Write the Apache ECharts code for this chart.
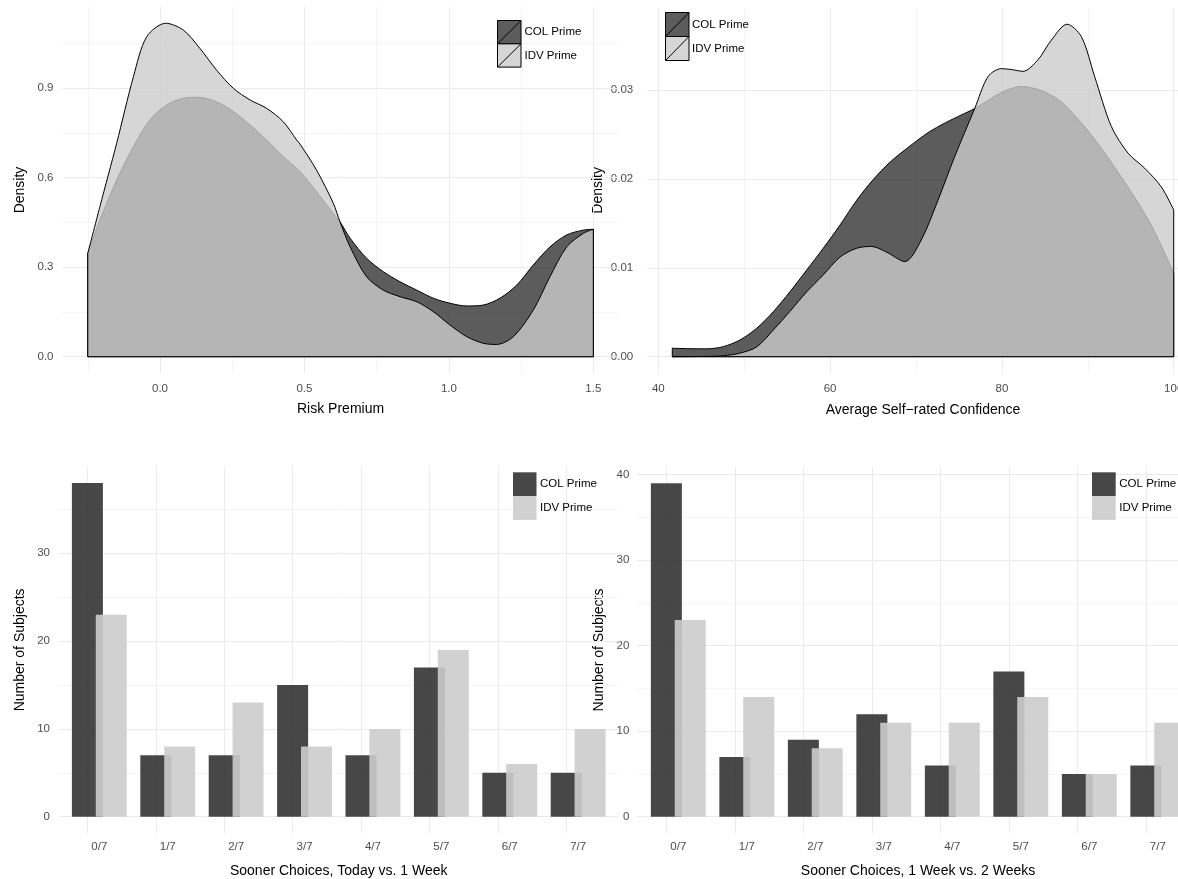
<!DOCTYPE html>
<html><head><meta charset="utf-8">
<script src="https://cdn.jsdelivr.net/npm/echarts@6/dist/echarts.min.js"></script>
<style>html,body{margin:0;padding:0;background:#fff;overflow:hidden}#c{width:1230px;height:879px}</style>
</head><body><div id="c"></div>
<script>
// ---------- DATA ----------
const riskColPrime = [[-0.25,0.346],[-0.208,0.458],[-0.15,0.592],[-0.092,0.704],[-0.035,0.793],[0.023,0.843],[0.081,0.866],[0.133,0.869],[0.196,0.854],[0.254,0.821],[0.312,0.776],[0.369,0.726],[0.427,0.67],[0.485,0.62],[0.542,0.553],[0.6,0.48],[0.623,0.452],[0.658,0.397],[0.715,0.33],[0.773,0.285],[0.831,0.251],[0.889,0.223],[0.946,0.196],[1.004,0.179],[1.062,0.17],[1.119,0.173],[1.177,0.196],[1.235,0.24],[1.292,0.307],[1.35,0.368],[1.408,0.408],[1.465,0.424],[1.5,0.427]];
const riskIdvPrime = [[-0.25,0.346],[-0.208,0.503],[-0.15,0.715],[-0.092,0.938],[-0.046,1.072],[0.02,1.117],[0.081,1.094],[0.138,1.033],[0.196,0.96],[0.254,0.899],[0.312,0.86],[0.369,0.832],[0.427,0.787],[0.473,0.726],[0.485,0.712],[0.542,0.625],[0.6,0.514],[0.623,0.452],[0.658,0.368],[0.715,0.268],[0.773,0.223],[0.831,0.201],[0.889,0.184],[0.946,0.151],[1.004,0.106],[1.062,0.067],[1.119,0.045],[1.165,0.041],[1.223,0.067],[1.292,0.156],[1.35,0.268],[1.408,0.368],[1.465,0.413],[1.5,0.427]];
const confColPrime = [[41.63,0.00095],[43.69,0.0009],[45.63,0.00088],[47.57,0.00113],[49.51,0.00188],[51.46,0.0032],[53.39,0.00506],[55.33,0.00731],[57.28,0.00975],[59.21,0.0122],[61.15,0.0148],[63.1,0.0176],[65.0,0.0199],[67.0,0.0219],[69.3,0.0237],[71.4,0.0252],[73.4,0.0263],[75.3,0.0272],[76.8,0.0279],[78.5,0.0289],[80.1,0.0298],[82.3,0.0304],[84.4,0.03],[86.6,0.0289],[88.8,0.0268],[91.0,0.0242],[93.2,0.0212],[95.4,0.018],[97.5,0.0146],[100,0.0094]];
const confIdvPrime = [[41.63,0],[45.5,0.00003],[47.57,0.0001],[49.51,0.0004],[51.46,0.0011],[53.39,0.003],[55.33,0.0051],[57.28,0.0073],[59.21,0.0092],[61.15,0.0112],[63.1,0.0122],[64.8,0.0124],[66.5,0.0118],[68.7,0.0107],[70.6,0.0131],[72.56,0.0176],[74.5,0.0225],[76.83,0.0279],[78.38,0.0315],[79.93,0.0324],[81.1,0.0323],[82.46,0.0321],[84.2,0.0334],[85.75,0.0356],[87.58,0.0374],[89.25,0.036],[90.8,0.0315],[92.74,0.0259],[94.68,0.0229],[96.62,0.0212],[98.56,0.0191],[100,0.0165]];

const soonerCategories = ['0/7','1/7','2/7','3/7','4/7','5/7','6/7','7/7'];
const todayWeekColPrime = [38,7,7,15,7,17,5,5];
const todayWeekIdvPrime = [23,8,13,8,10,19,6,10];
const weekTwoColPrime = [39,7,9,12,6,17,5,6];
const weekTwoIdvPrime = [23,14,8,11,11,14,5,11];

const riskTicks = [0,0.5,1,1.5];
const riskMinorTicks = [-0.25,0.25,0.75,1.25];
const riskDensityTicks = [0,0.3,0.6,0.9];
const riskDensityMinorTicks = [0.15,0.45,0.75,1.05];
const confTicks = [40,60,80,100];
const confMinorTicks = [50,70,90];
const confDensityTicks = [0,0.01,0.02,0.03];
const confDensityMinorTicks = [0.005,0.015,0.025,0.035];
const countTicksA = [0,10,20,30];
const countTicksB = [0,10,20,30,40];
const countMinorTicks = [5,15,25,35];
const seriesNames = ['COL Prime','IDV Prime'];

// ---------- STYLE ----------
const FONT = "'Liberation Sans', Arial, Helvetica, sans-serif";
const colDens = 'rgba(51,51,51,0.8)';
const idvDens = 'rgba(204,204,204,0.8)';
const colBar = 'rgba(51,51,51,0.9)';
const idvBar = 'rgba(204,204,204,0.9)';
const majorLine = {color:'#ebebeb', width:1, type:'solid'};
const minorLine = {color:'#f4f4f4', width:1, type:'solid'};

function gridMarks(majX, minX, majY, minY){
  return {
    silent:true, symbol:['none','none'], z:1, animation:false,
    label:{show:false}, emphasis:{disabled:true},
    lineStyle:{type:'solid'},
    data:[].concat(
      minX.map(v=>({xAxis:v, lineStyle:minorLine})),
      minY.map(v=>({yAxis:v, lineStyle:minorLine})),
      majX.map(v=>({xAxis:v, lineStyle:majorLine})),
      majY.map(v=>({yAxis:v, lineStyle:majorLine}))
    )
  };
}
function edges(d){
  const a=d[0], b=d[d.length-1];
  return [[b[0],b[1]],[b[0],0],[a[0],0],[a[0],a[1]]];
}
function xAx(idx, o){
  return Object.assign({
    type:'value', gridIndex:idx, nameLocation:'middle',
    nameTextStyle:{fontSize:14, color:'#000', fontFamily:FONT},
    axisLine:{show:false}, axisTick:{show:false}, splitLine:{show:false},
  }, o);
}
const tickText = {fontSize:11.5, color:'#4d4d4d', fontFamily:FONT};

const grids = [
  {left:62.5, top:6.6, width:556.1, height:366.8},
  {left:647.2, top:7.4, width:551.6, height:365.9},
  {left:58.3, top:466.4, width:560.9, height:367},
  {left:637.2, top:466.6, width:561.7, height:366.8}
];

const xAxes = [
  xAx(0,{min:-0.3375, max:1.5875, name:'Risk Premium', nameGap:29,
    axisLabel:Object.assign({customValues:riskTicks, margin:9.5, formatter:v=>v.toFixed(1)},tickText)}),
  xAx(1,{min:38.71, max:102.92, name:'Average Self\u2212rated Confidence', nameGap:29.5,
    axisLabel:Object.assign({customValues:confTicks, margin:9.5, formatter:v=>String(Math.round(v))},tickText)}),
  xAx(2,{min:-0.6, max:7.6, name:'Sooner Choices, Today vs. 1 Week', nameGap:30.5,
    axisLabel:Object.assign({customValues:soonerCategories.map((c,i)=>i), margin:7.5, formatter:v=>soonerCategories[Math.round(v)]},tickText)}),
  xAx(3,{min:-0.6, max:7.6, name:'Sooner Choices, 1 Week vs. 2 Weeks', nameGap:30.5,
    axisLabel:Object.assign({customValues:soonerCategories.map((c,i)=>i), margin:7.5, formatter:v=>soonerCategories[Math.round(v)]},tickText)})
];
const yAxes = [
  xAx(0,{min:-0.0559, max:1.1728, name:'Density', nameGap:35,
    axisLabel:Object.assign({customValues:riskDensityTicks, margin:9, formatter:v=>v.toFixed(1)},tickText)}),
  xAx(1,{min:-0.00187, max:0.03929, name:'Density', nameGap:42,
    axisLabel:Object.assign({customValues:confDensityTicks, margin:14, formatter:v=>v.toFixed(2)},tickText)}),
  xAx(2,{min:-1.9, max:39.9, name:'Number of Subjects', nameGap:31.5,
    axisLabel:Object.assign({customValues:countTicksA, margin:8.3, formatter:v=>String(Math.round(v))},tickText)}),
  xAx(3,{min:-1.95, max:40.95, name:'Number of Subjects', nameGap:31.5,
    axisLabel:Object.assign({customValues:countTicksB, margin:7.8, formatter:v=>String(Math.round(v))},tickText)})
];

function densSeries(g, data, fill, name, z, marks){
  const s = [{
    type:'line', name:name, xAxisIndex:g, yAxisIndex:g, data:data, smooth:0.3,
    symbol:'none', z:z, silent:true,
    lineStyle:{color:'#000', width:1}, areaStyle:{color:fill, opacity:1}
  },{
    type:'line', name:name, xAxisIndex:g, yAxisIndex:g, data:edges(data), smooth:false,
    symbol:'none', z:z, silent:true, lineStyle:{color:'#000', width:1}
  }];
  if (marks) s[0].markLine = marks;
  return s;
}
function barSeries(g, vals, color, name, z, marks){
  const s = {
    type:'bar', name:name, xAxisIndex:g, yAxisIndex:g,
    data:vals.map((v,i)=>[i,v]), barWidth:31, barGap:'-23%', z:z, silent:true,
    itemStyle:{color:color}
  };
  if (marks) s.markLine = marks;
  return s;
}

const series = [].concat(
  densSeries(0, riskColPrime, colDens, seriesNames[0], 3, gridMarks(riskTicks, riskMinorTicks, riskDensityTicks, riskDensityMinorTicks)),
  densSeries(0, riskIdvPrime, idvDens, seriesNames[1], 4),
  densSeries(1, confColPrime, colDens, seriesNames[0], 3, gridMarks(confTicks, confMinorTicks, confDensityTicks, confDensityMinorTicks)),
  densSeries(1, confIdvPrime, idvDens, seriesNames[1], 4),
  [barSeries(2, todayWeekColPrime, colBar, seriesNames[0], 3, gridMarks(soonerCategories.map((c,i)=>i), [], countTicksA, countMinorTicks)),
   barSeries(2, todayWeekIdvPrime, idvBar, seriesNames[1], 4),
   barSeries(3, weekTwoColPrime, colBar, seriesNames[0], 3, gridMarks(soonerCategories.map((c,i)=>i), [], countTicksB, countMinorTicks)),
   barSeries(3, weekTwoIdvPrime, idvBar, seriesNames[1], 4)]
);

// ---------- LEGENDS (graphic) ----------
function densLegend(x, y, w, h, tx){
  const els = [];
  [colDens, idvDens].forEach((f,i)=>{
    const yy = y + i*h;
    els.push({type:'rect', shape:{x:x, y:yy, width:w, height:h}, style:{fill:f, stroke:'#000', lineWidth:1}, z:10});
    els.push({type:'line', shape:{x1:x, y1:yy+h, x2:x+w, y2:yy}, style:{stroke:'#000', lineWidth:1}, z:10});
    els.push({type:'text', x:tx, y:yy+h/2, style:{text:seriesNames[i], fontSize:11.5, fontFamily:FONT, fill:'#000', verticalAlign:'middle', align:'left'}, z:10});
  });
  return els;
}
function barLegend(x, y, w, h, tx){
  const els = [];
  [colBar, idvBar].forEach((f,i)=>{
    const yy = y + i*h;
    els.push({type:'rect', shape:{x:x, y:yy, width:w, height:h}, style:{fill:f}, z:10});
    els.push({type:'text', x:tx, y:yy+h/2, style:{text:seriesNames[i], fontSize:11.5, fontFamily:FONT, fill:'#000', verticalAlign:'middle', align:'left'}, z:10});
  });
  return els;
}

const chart = echarts.init(document.getElementById('c'), null, {renderer:'canvas'});
chart.setOption({
  animation:false,
  backgroundColor:'#fff',
  grid:grids,
  xAxis:xAxes,
  yAxis:yAxes,
  series:series,
  graphic:[].concat(
    densLegend(497.5, 20.5, 23.5, 23.3, 524.5),
    densLegend(665.5, 12.5, 23.5, 24, 692),
    barLegend(513, 472.3, 23.5, 23.8, 540),
    barLegend(1092, 472.3, 23.7, 23.8, 1119.3)
  )
});
</script></body></html>
